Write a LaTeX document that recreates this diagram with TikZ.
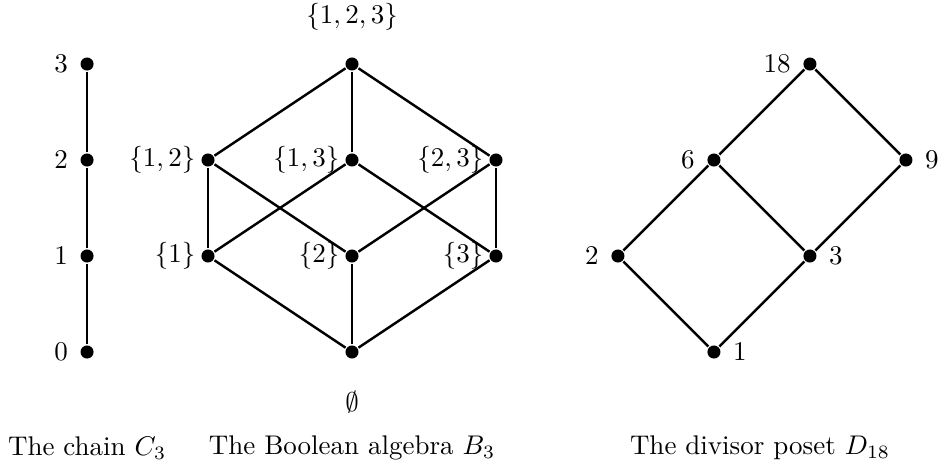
\documentclass[tikz,border=0pt]{standalone}
\usepackage{amsmath, amssymb}
\usetikzlibrary{positioning}

\begin{document}
\begin{tikzpicture}[x=1.25cm, y=1.25cm, line width=0.9pt,
      v/.style={circle, fill, inner sep=0pt, minimum size=0.17cm},
      every label/.style={label distance=0.5pt},
      sl/.style={label={[label distance=-2pt]left:#1}}]
    \useasboundingbox (-3.667,-1.167) rectangle (6.125,3.667);
    % chain
    \node[v, label=left:$0$] (c0) at (-2.76, 0) {};
    \node[v, label=left:$1$] (c1) at (-2.76, 1) {};
    \node[v, label=left:$2$] (c2) at (-2.76, 2) {};
    \node[v, label=left:$3$] (c3) at (-2.76, 3) {};
    \draw (c0) -- (c1) -- (c2) -- (c3);
    % boolean algebra
    \node[v, label={[label distance=0.28cm]below:$\emptyset$}] (e) at (0, 0) {};
    \node[v, sl={$\{1\}$}] (a1) at (-1.5, 1) {};
    \node[v, sl={$\{2\}$}] (a2) at (0, 1) {};
    \node[v, sl={$\{3\}$}] (a3) at (1.5, 1) {};
    \node[v, sl={$\{1,2\}$}] (a12) at (-1.5, 2) {};
    \node[v, sl={$\{1,3\}$}] (a13) at (0, 2) {};
    \node[v, sl={$\{2,3\}$}] (a23) at (1.5, 2) {};
    \node[v, label={[label distance=0.2cm]above:$\{1,2,3\}$}] (a123) at (0, 3) {};
    \foreach \s/\t in {e/a1, e/a2, e/a3, a1/a12, a1/a13, a2/a12, a2/a23,
                      a3/a13, a3/a23, a12/a123, a13/a123, a23/a123}
      \draw (\s) -- (\t);
    % divisor poset
    \node[v, label=right:$1$] (d1) at (3.77, 0) {};
    \node[v, label=left:$2$] (d2) at (2.77, 1) {};
    \node[v, label=right:$3$] (d3) at (4.77, 1) {};
    \node[v, label=left:$6$] (d6) at (3.77, 2) {};
    \node[v, label=right:$9$] (d9) at (5.77, 2) {};
    \node[v, label=left:$18$] (d18) at (4.77, 3) {};
    \draw (d1) -- (d2) -- (d6) -- (d18) -- (d9) -- (d3) -- (d1);
    \draw (d3) -- (d6);
    % captions
    \node (capc) at (-2.76, -1.0) {The chain $C_3$};
    \node (capb) at (0, -1.0) {The Boolean algebra $B_3$};
    \node (capd) at (4.25, -1.0) {The divisor poset $D_{18}$};
  \end{tikzpicture}
\end{document}
